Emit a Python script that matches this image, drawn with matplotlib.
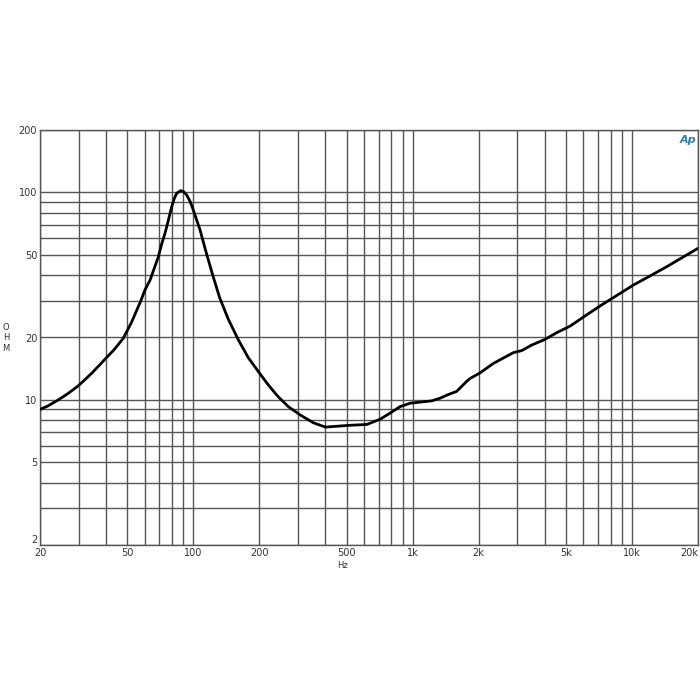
import matplotlib
matplotlib.use("Agg")
import matplotlib.pyplot as plt
from matplotlib.ticker import FixedLocator, FixedFormatter, NullLocator

# Impedance curve
freq_hz = [20, 21.7, 24.2, 26.7, 29.9, 34.3, 40.0, 43.8, 47.9, 52.2, 57.6, 60.2, 63.5,
           69.3, 71.5, 74.3, 77.0, 79.7, 82.0, 84.0, 87.6, 90.2, 93.3, 96.8, 100, 103.6,
           107.3, 115, 123, 132, 144.4, 160, 178, 201, 220, 241, 271, 307, 352, 400,
           467, 519, 618, 710, 786, 877, 973, 1115, 1222, 1334, 1448, 1588, 1765, 1828,
           2029, 2333, 2877, 3146, 3494, 4018, 4540, 5224, 6110, 7160, 8530, 10150,
           12090, 14410, 20000]
impedance_ohm = [9.0, 9.35, 10.0, 10.7, 11.7, 13.4, 15.9, 17.6, 19.8, 23.6, 30.0, 33.9, 37.8,
                 49.0, 55.8, 63.6, 73.6, 85.3, 93.8, 99.1, 102, 101, 97.2, 90.3, 82.3, 73.6,
                 66, 50.5, 39.5, 31.0, 24.5, 19.6, 16.0, 13.4, 11.8, 10.5, 9.29, 8.47, 7.77, 7.40,
                 7.49, 7.55, 7.62, 8.07, 8.62, 9.29, 9.64, 9.8, 9.9, 10.2, 10.6, 11.0, 12.3, 12.7,
                 13.5, 15.0, 16.9, 17.3, 18.4, 19.6, 21.1, 22.7, 25.4, 28.4, 31.9, 35.8,
                 39.6, 43.9, 53.8]

x_grid = [20, 30, 40, 50, 60, 70, 80, 90, 100, 200, 300, 400, 500, 600, 700, 800, 900,
          1000, 2000, 3000, 4000, 5000, 6000, 7000, 8000, 9000, 10000, 20000]
x_tick_vals = [20, 50, 100, 200, 500, 1000, 2000, 5000, 10000, 20000]
x_tick_labels = ["20", "50", "100", "200", "500", "1k", "2k", "5k", "10k", "20k"]
y_grid = [2, 3, 4, 5, 6, 7, 8, 9, 10, 20, 30, 40, 50, 60, 70, 80, 90, 100, 200]
y_tick_vals = [2, 5, 10, 20, 50, 100, 200]
y_tick_labels = ["2", "5", "10", "20", "50", "100", "200"]

fig = plt.figure(figsize=(7, 7), dpi=100)
ax = fig.add_axes([40 / 700, 1 - 545 / 700, 658 / 700, 415 / 700])
ax.set_xscale("log")
ax.set_yscale("log")
ax.set_xlim(20, 20000)
ax.set_ylim(2, 200)

gcol = "#555555"
for xv in x_grid:
    ax.axvline(xv, color=gcol, lw=1.0, zorder=1)
for yv in y_grid:
    ax.axhline(yv, color=gcol, lw=1.0, zorder=1)

ax.plot(freq_hz, impedance_ohm, color="black", lw=2.0, zorder=3,
        solid_joinstyle="round", solid_capstyle="round")

ax.xaxis.set_major_locator(FixedLocator(x_tick_vals))
ax.xaxis.set_major_formatter(FixedFormatter(x_tick_labels))
ax.xaxis.set_minor_locator(NullLocator())
ax.yaxis.set_major_locator(FixedLocator(y_tick_vals))
ax.yaxis.set_major_formatter(FixedFormatter(y_tick_labels))
ax.yaxis.set_minor_locator(NullLocator())
ax.tick_params(axis="both", length=0, labelsize=7, colors="#333333", pad=2)

# last x label right-aligned like the reference, "2" lifted slightly
xlabels = ax.get_xticklabels()
xlabels[-1].set_horizontalalignment("right")
ylabels = ax.get_yticklabels()
ylabels[0].set_verticalalignment("bottom")

for s in ax.spines.values():
    s.set_color(gcol)
    s.set_linewidth(1.0)

fig.text(342 / 700, 1 - 565 / 700, "Hz", fontsize=6, color="#333333", ha="center", va="center")
fig.text(6 / 700, 1 - 338 / 700, "O\nH\nM", fontsize=6, color="#333333", ha="center", va="center",
         linespacing=1.2)
fig.text(688 / 700, 1 - 140 / 700, "Ap", fontsize=8, color="#2a7fa8", style="italic",
         ha="center", va="center", fontweight="bold")

fig.savefig("out.png", dpi=100, facecolor="white")
